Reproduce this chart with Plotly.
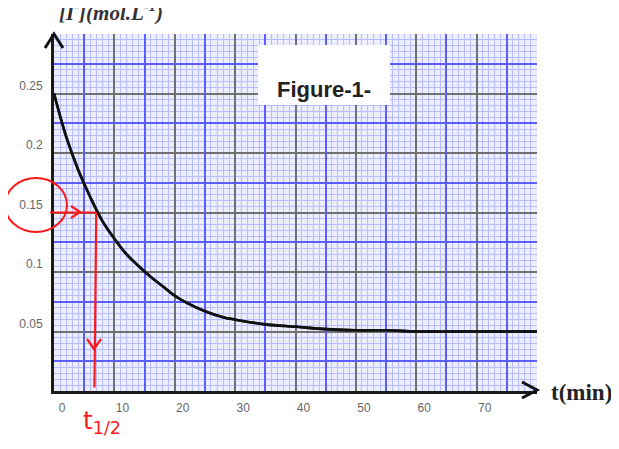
import plotly.graph_objects as go

# ---- data ----
time_min = [0, 2, 4, 6, 8, 10, 12, 14, 16, 18, 20, 22, 25, 28, 30, 35, 40, 45, 50, 55, 60, 65, 70, 75, 80]
conc_I = [0.250, 0.214, 0.186, 0.163, 0.143, 0.128, 0.115, 0.105, 0.096, 0.088, 0.080, 0.074,
          0.067, 0.062, 0.060, 0.056, 0.054, 0.052, 0.051, 0.051, 0.050, 0.050, 0.050, 0.050, 0.050]
x_ticks = [0, 10, 20, 30, 40, 50, 60, 70, 80]
x_ticktext = ["0", "10", "20", "30", "40", "50", "60", "70", ""]
y_ticks = [0, 0.05, 0.1, 0.15, 0.2, 0.25, 0.3]
y_ticktext = ["", "0.05", "0.1", "0.15", "0.2", "0.25", ""]
x_half_grid = [5, 15, 25, 35, 45, 55, 65, 75]
y_half_grid = [0.025, 0.075, 0.125, 0.175, 0.225, 0.275]
half_conc = 0.15
t_half = 7.0

X_MAX, Y_MAX = 80, 0.30
OFF = 8                      # page body margin
W, H = 611, 441              # figure size
ML, MT = 46, 26
PLOT_R, PLOT_B = 529, 383
MR, MB = W - PLOT_R, H - PLOT_B
PW, PH = PLOT_R - ML, PLOT_B - MT


def px(x):  # page pixel x -> paper
    return (x - OFF - ML) / PW


def py(y):  # page pixel y -> paper
    return (PLOT_B - (y - OFF)) / PH


curve_line = dict(color="#111111", width=2.6, shape="spline")
fig = go.Figure()
fig.add_trace(go.Scatter(x=time_min, y=conc_I, mode="lines", line=curve_line,
                         hoverinfo="skip", showlegend=False))
fig.add_trace(go.Scatter(x=time_min, y=conc_I, mode="lines", line=curve_line,
                         xaxis="x2", yaxis="y2", hoverinfo="skip", showlegend=False))

grid_font = dict(family="Liberation Sans, Arial", size=12, color="#666666")
fig.update_layout(
    xaxis=dict(range=[0, X_MAX], tickmode="array", tickvals=x_ticks, ticktext=x_ticktext,
               showgrid=True, gridcolor="#707070", gridwidth=2,
               minor=dict(tickmode="linear", tick0=0, dtick=1, showgrid=True,
                          gridcolor="#b8bdff", gridwidth=1),
               showline=True, linecolor="#1a1a1a", linewidth=3, ticks="",
               zeroline=False, tickfont=grid_font, ticklabelshift=8,
               ticklabelstandoff=4, automargin=False),
    yaxis=dict(range=[0, Y_MAX], tickmode="array", tickvals=y_ticks, ticktext=y_ticktext,
               showgrid=True, gridcolor="#707070", gridwidth=2,
               minor=dict(tickmode="linear", tick0=0, dtick=0.005, showgrid=True,
                          gridcolor="#b8bdff", gridwidth=1),
               showline=True, linecolor="#1a1a1a", linewidth=3, ticks="",
               zeroline=False, tickfont=grid_font, ticklabelshift=-8,
               ticklabelstandoff=6, automargin=False),
    xaxis2=dict(range=[0, X_MAX], overlaying="x", anchor="y2", tickmode="array",
                tickvals=x_half_grid, showticklabels=False, ticks="",
                showgrid=True, gridcolor="#5a5eff", gridwidth=2,
                showline=False, zeroline=False, automargin=False),
    yaxis2=dict(range=[0, Y_MAX], overlaying="y", anchor="x2", tickmode="array",
                tickvals=y_half_grid, showticklabels=False, ticks="",
                showgrid=True, gridcolor="#5a5eff", gridwidth=2,
                showline=False, zeroline=False, automargin=False),
)

shapes = []
# axis arrowheads
shapes.append(dict(type="path", xref="paper", yref="paper",
                   path=f"M {px(45)} {py(48)} L {px(54)} {py(34)} L {px(63)} {py(48)}",
                   line=dict(color="#111111", width=3), layer="above"))
shapes.append(dict(type="path", xref="paper", yref="paper",
                   path=f"M {px(522)} {py(382)} L {px(537)} {py(390)} L {px(522)} {py(398)}",
                   line=dict(color="#111111", width=3), layer="above"))

# Figure-1- box
shapes.append(dict(type="rect", xref="paper", yref="paper",
                   x0=px(258), x1=px(390), y0=py(105), y1=py(45),
                   fillcolor="white", line=dict(width=0), layer="above"))

# red hand annotations
red = "#ff1a1a"
shapes.append(dict(type="circle", xref="paper", yref="paper",
                   x0=px(5), x1=px(67), y0=py(232), y1=py(178),
                   line=dict(color=red, width=2), layer="above"))
shapes.append(dict(type="line", xref="paper", yref="y",
                   x0=px(50), x1=t_half / X_MAX, y0=half_conc, y1=half_conc,
                   line=dict(color=red, width=2.2), layer="above"))
shapes.append(dict(type="path", xref="paper", yref="paper",
                   path=f"M {px(71)} {py(206)} L {px(80)} {py(212)} L {px(71)} {py(218)}",
                   line=dict(color=red, width=2.2), layer="above"))
shapes.append(dict(type="line", xref="x", yref="y",
                   x0=t_half, x1=t_half - 0.3, y0=half_conc, y1=0.003,
                   line=dict(color=red, width=2.2), layer="above"))
shapes.append(dict(type="path", xref="paper", yref="paper",
                   path=f"M {px(87)} {py(339)} L {px(94)} {py(349)} L {px(101)} {py(339)}",
                   line=dict(color=red, width=2.2), layer="above"))

annotations = [
    dict(text="Figure-1-", xref="paper", yref="paper", x=px(324), y=py(75),
         showarrow=False, font=dict(family="Liberation Sans, Arial", size=22,
                                    color="#222222", weight="bold")),
    dict(text="t(min)", xref="paper", yref="paper", x=px(549), y=py(392),
         xanchor="left", yanchor="middle", showarrow=False,
         font=dict(family="Liberation Serif, Times New Roman", size=23,
                   color="#222222", weight="bold")),
    dict(text="[I<sup>-</sup>](mol.L<sup>-1</sup>)", xref="paper", yref="paper",
         x=px(57), y=py(27), xanchor="left", yanchor="bottom", showarrow=False,
         font=dict(family="Liberation Serif, Times New Roman", size=21,
                   color="#333333", weight="bold", style="italic")),
    dict(text="t<sub>1/2</sub>", xref="paper", yref="paper", x=px(81), y=py(422),
         xanchor="left", yanchor="middle", showarrow=False,
         font=dict(family="DejaVu Sans", size=25, color=red)),
]

fig.update_layout(width=W, height=H, margin=dict(l=ML, r=MR, t=MT, b=MB),
                  paper_bgcolor="white", plot_bgcolor="#eceefe",
                  shapes=shapes, annotations=annotations, showlegend=False)

fig.write_html("out.html")
